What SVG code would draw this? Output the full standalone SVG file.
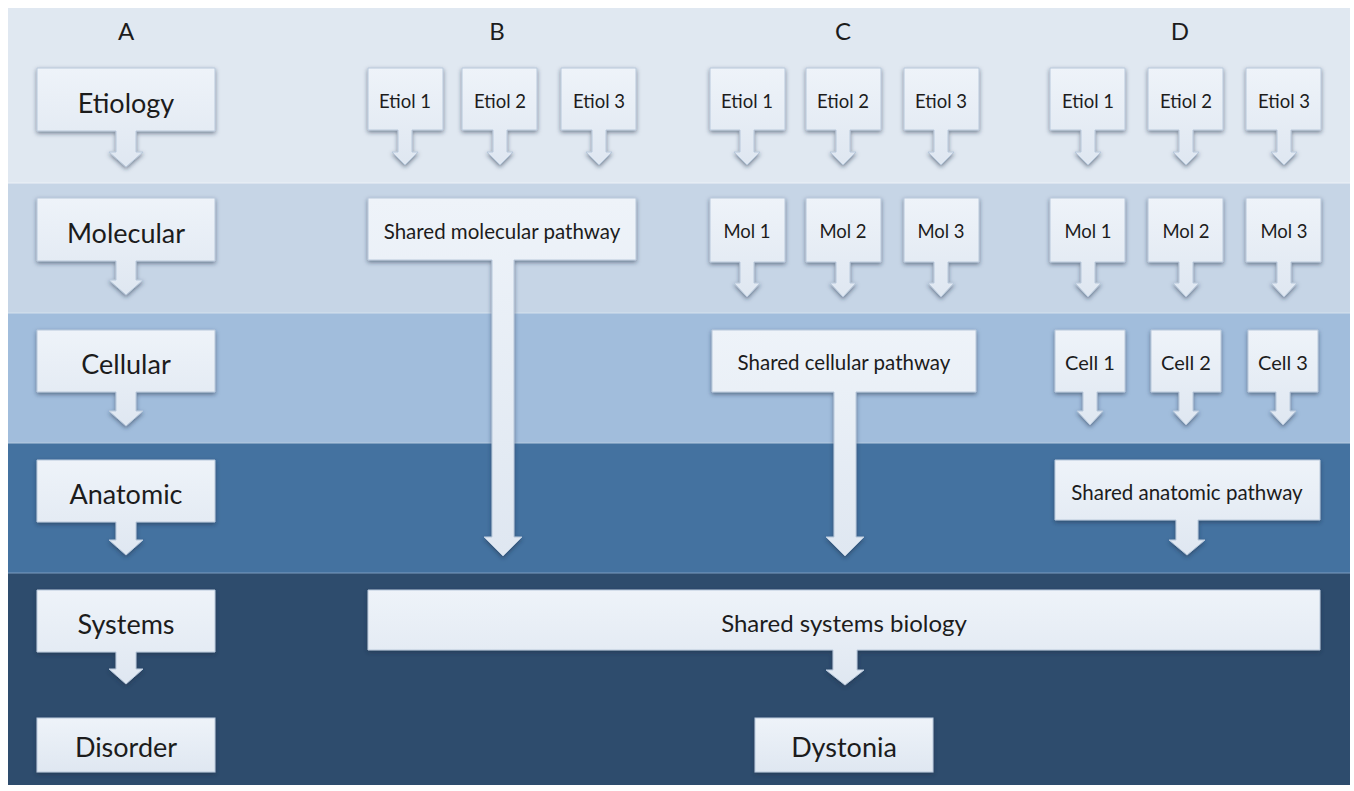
<svg xmlns="http://www.w3.org/2000/svg" width="1354" height="791" viewBox="0 0 1354 791">
<defs>
<linearGradient id="g" x1="0" y1="0" x2="0" y2="1">
<stop offset="0" stop-color="#eef3f9"/>
<stop offset="1" stop-color="#dfe7f1"/>
</linearGradient>
<filter id="sh" x="-20%" y="-20%" width="140%" height="160%">
<feDropShadow dx="0" dy="2" stdDeviation="2.2" flood-color="#1a2f4a" flood-opacity="0.55"/>
</filter>
<style>
.n{fill:url(#g);stroke:#b8c8db;stroke-width:1;filter:url(#sh)}
.t{font-family:Lato,"Liberation Sans",sans-serif;fill:#1c1c1c;text-anchor:middle;dominant-baseline:central}
.big{font-size:27px}
.sm{font-size:18.5px}
.ce{font-size:20px}
.sp{font-size:20.5px}
.hd{font-size:24px}
</style>
</defs>
<rect width="1354" height="791" fill="#ffffff"/>
<g id="bands">
<rect x="8" y="8" width="1342" height="175" fill="#e0e8f1"/>
<rect x="8" y="183" width="1342" height="130" fill="#c6d5e6"/>
<rect x="8" y="313" width="1342" height="130" fill="#a1bddc"/>
<rect x="8" y="443" width="1342" height="130" fill="#4472a0"/>
<rect x="8" y="573" width="1342" height="212" fill="#2e4c6d"/>
<line x1="8" y1="183" x2="1350" y2="183" stroke="#edf2f7" stroke-width="1"/>
<line x1="8" y1="313" x2="1350" y2="313" stroke="#d6e2ee" stroke-width="1"/>
<line x1="8" y1="443" x2="1350" y2="443" stroke="#b6cbe1" stroke-width="1"/>
<line x1="8" y1="573" x2="1350" y2="573" stroke="#7d9cc0" stroke-width="1"/>
</g>
<g id="headers">
<text class="t hd" x="126" y="30">A</text>
<text class="t hd" x="497" y="30">B</text>
<text class="t hd" x="843" y="30">C</text>
<text class="t hd" x="1180" y="30">D</text>
</g>
<g id="connectors"></g>
<!-- Column A -->
<g id="a-etiology"><path class="n" d="M37 68H215V131H136V152H143L126 167L109 152H116V131H37Z"/><text class="t big" x="126" y="102">Etiology</text></g>
<g id="a-molecular"><path class="n" d="M37 198H215V261H136V280H143L126 295L109 280H116V261H37Z"/><text class="t big" x="126" y="232">Molecular</text></g>
<g id="a-cellular"><path class="n" d="M37 330H215V392H136V411H143L126 426L109 411H116V392H37Z"/><text class="t big" x="126" y="363">Cellular</text></g>
<g id="a-anatomic"><path class="n" d="M37 460H215V522H136V540H143L126 555L109 540H116V522H37Z"/><text class="t big" x="126" y="493">Anatomic</text></g>
<g id="a-systems"><path class="n" d="M37 590H215V652H136V669H143L126 684L109 669H116V652H37Z"/><text class="t big" x="126" y="623">Systems</text></g>
<g id="a-disorder"><rect class="n" x="37" y="718" width="178" height="54"/><text class="t big" x="126" y="746">Disorder</text></g>
<!-- Column B -->
<g id="b-etiol1"><path class="n" d="M368 68H443V130H412V152H418L405 165L392 152H398V130H368Z"/><text class="t sm" x="405" y="101">Etiol 1</text></g>
<g id="b-etiol2"><path class="n" d="M462 68H537V130H507V152H513L500 165L487 152H493V130H462Z"/><text class="t sm" x="500" y="101">Etiol 2</text></g>
<g id="b-etiol3"><path class="n" d="M561 68H636V130H606V152H612L599 165L586 152H592V130H561Z"/><text class="t sm" x="599" y="101">Etiol 3</text></g>
<g id="b-shared-molecular"><path class="n" d="M368 198H636V260H514V537H522L503 556L484 537H492V260H368Z"/><text class="t sp" x="502" y="231">Shared molecular pathway</text></g>
<!-- Column C -->
<g id="c-etiol1"><path class="n" d="M710 68H785V130H754V152H760L747 165L734 152H740V130H710Z"/><text class="t sm" x="747" y="101">Etiol 1</text></g>
<g id="c-etiol2"><path class="n" d="M806 68H881V130H850V152H856L843 165L830 152H836V130H806Z"/><text class="t sm" x="843" y="101">Etiol 2</text></g>
<g id="c-etiol3"><path class="n" d="M904 68H979V130H948V152H954L941 165L928 152H934V130H904Z"/><text class="t sm" x="941" y="101">Etiol 3</text></g>
<g id="c-mol1"><path class="n" d="M710 198H785V262H754V283H760L747 297L734 283H740V262H710Z"/><text class="t sm" x="747" y="231">Mol 1</text></g>
<g id="c-mol2"><path class="n" d="M806 198H881V262H850V283H856L843 297L830 283H836V262H806Z"/><text class="t sm" x="843" y="231">Mol 2</text></g>
<g id="c-mol3"><path class="n" d="M904 198H979V262H948V283H954L941 297L928 283H934V262H904Z"/><text class="t sm" x="941" y="231">Mol 3</text></g>
<g id="c-shared-cellular"><path class="n" d="M712 330H976V392H856V537H864L845 556L826 537H834V392H712Z"/><text class="t sp" x="844" y="362">Shared cellular pathway</text></g>
<!-- Column D -->
<g id="d-etiol1"><path class="n" d="M1050 68H1125V130H1095V152H1101L1088 165L1075 152H1081V130H1050Z"/><text class="t sm" x="1088" y="101">Etiol 1</text></g>
<g id="d-etiol2"><path class="n" d="M1148 68H1223V130H1193V152H1199L1186 165L1173 152H1179V130H1148Z"/><text class="t sm" x="1186" y="101">Etiol 2</text></g>
<g id="d-etiol3"><path class="n" d="M1246 68H1321V130H1291V152H1297L1284 165L1271 152H1277V130H1246Z"/><text class="t sm" x="1284" y="101">Etiol 3</text></g>
<g id="d-mol1"><path class="n" d="M1050 198H1125V262H1095V283H1101L1088 297L1075 283H1081V262H1050Z"/><text class="t sm" x="1088" y="231">Mol 1</text></g>
<g id="d-mol2"><path class="n" d="M1148 198H1223V262H1193V283H1199L1186 297L1173 283H1179V262H1148Z"/><text class="t sm" x="1186" y="231">Mol 2</text></g>
<g id="d-mol3"><path class="n" d="M1246 198H1321V262H1291V283H1297L1284 297L1271 283H1277V262H1246Z"/><text class="t sm" x="1284" y="231">Mol 3</text></g>
<g id="d-cell1"><path class="n" d="M1055 330H1125V392H1097V411H1103L1090 425L1077 411H1083V392H1055Z"/><text class="t ce" x="1090" y="362">Cell 1</text></g>
<g id="d-cell2"><path class="n" d="M1151 330H1221V392H1193V411H1199L1186 425L1173 411H1179V392H1151Z"/><text class="t ce" x="1186" y="362">Cell 2</text></g>
<g id="d-cell3"><path class="n" d="M1248 330H1318V392H1290V411H1296L1283 425L1270 411H1276V392H1248Z"/><text class="t ce" x="1283" y="362">Cell 3</text></g>
<g id="d-shared-anatomic"><path class="n" d="M1055 460H1320V520H1198V540H1205L1187 555L1169 540H1176V520H1055Z"/><text class="t sp" x="1187" y="492">Shared anatomic pathway</text></g>
<!-- Shared -->
<g id="shared-systems"><path class="n" d="M368 590H1320V650H857V670H864L845 685L826 670H833V650H368Z"/><text class="t" style="font-size:24px" x="844" y="622">Shared systems biology</text></g>
<g id="dystonia"><rect class="n" x="755" y="718" width="178" height="54"/><text class="t big" x="844" y="746">Dystonia</text></g>
</svg>
